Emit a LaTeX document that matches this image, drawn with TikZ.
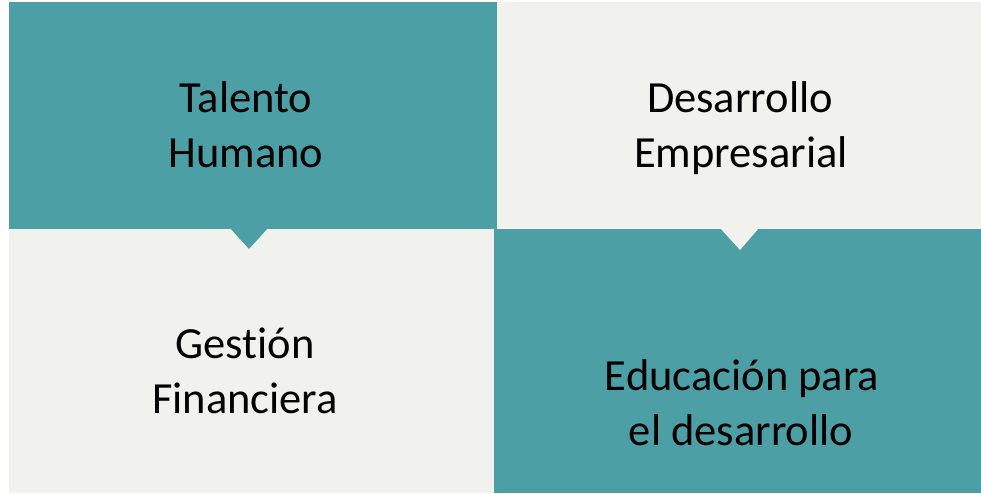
\documentclass[tikz,border=0pt]{standalone}
\usepackage{fontspec}
\setmainfont{Carlito}[Ligatures={NoCommon}]
\definecolor{tealbox}{RGB}{75,159,165}
\definecolor{greybox}{RGB}{241,241,237}
\begin{document}
\begin{tikzpicture}[x=1pt,y=-1pt, line join=round,
	lbl/.style={anchor=base, inner sep=0pt, font=\fontsize{44.5}{52}\selectfont, text=black}]
	\useasboundingbox (0,0) rectangle (981,493);
	\path
	(9,2) coordinate (A)
	(496.5,228.5) coordinate (B)
	(494,228.5) coordinate (C)
	(981,493) coordinate (D)
	;
	% the four boxes
	\fill[greybox] (B|-A) rectangle (D|-B);
	\fill[greybox] (A|-C) rectangle (C|-D);
	\fill[tealbox] (A) rectangle (B);
	\fill[tealbox] (C) rectangle (D);
	% the two pointers
	\fill[tealbox] (230,228) -- (268,228) -- (249,249) -- cycle;
	\fill[greybox] (720,228) -- (759,228) -- (740,250) -- cycle;
	% labels
	\foreach \x/\y/\s/\n in {246/112/Talento/th1, 246/167/Humano/th2,
		740/112/Desarrollo/de1, 741/167/Empresarial/de2,
		245/358/Gestión/gf1, 245/413/Financiera/gf2,
		742/390/Educación para/ed1, 741/445/el desarrollo/ed2}
	\node[lbl] (\n) at (\x,\y) {\s};
\end{tikzpicture}
\end{document}
